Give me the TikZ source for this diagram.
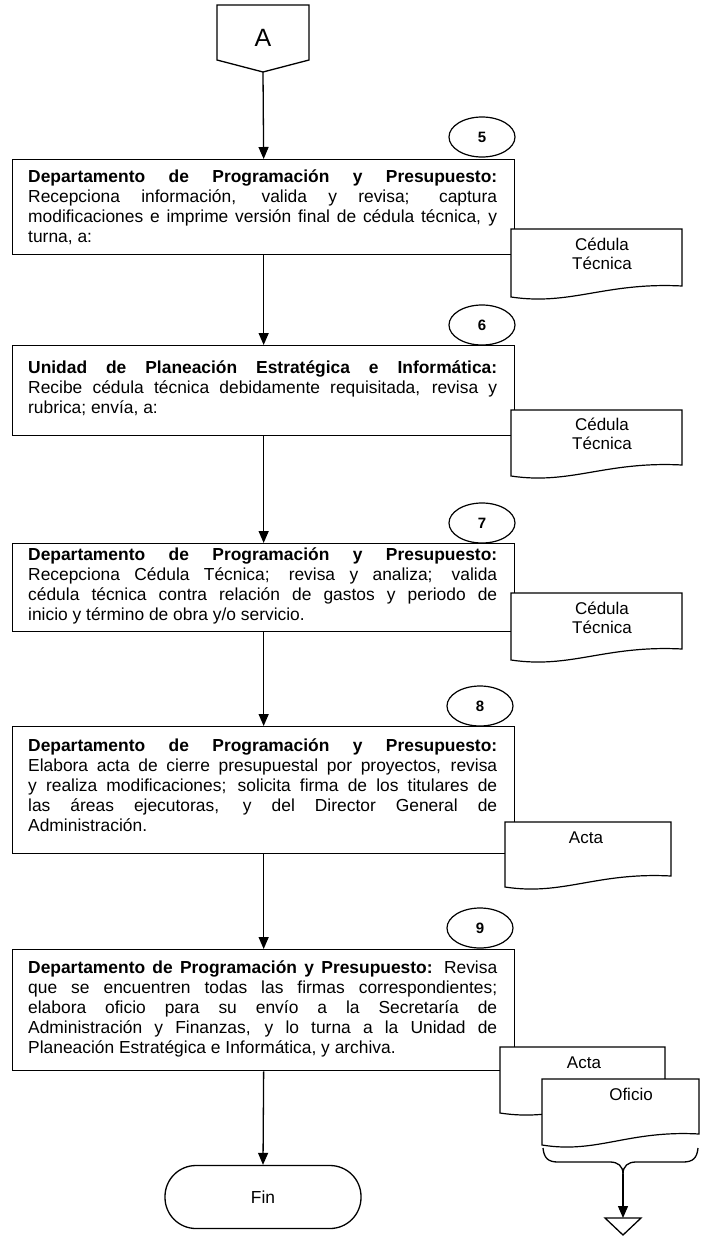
\documentclass[tikz,border=0pt]{standalone}
\usepackage{fontspec}
\setmainfont{Liberation Sans}
\usetikzlibrary{arrows.meta,shapes.geometric}
\newcommand\JL[1]{\hbox to 469pt{#1}}
\newcommand\NL[1]{\hbox{#1}}
\newcommand\bodytext[1]{\vtop{\hsize=469pt\fontsize{17.4}{20}\selectfont\baselineskip=20pt #1}}
\tikzset{
  box/.style={draw, line width=1.3pt, anchor=north west, inner sep=0pt},
  flow/.style={line width=1.3pt, -{Triangle[length=12pt,width=10pt]}},
  num/.style={draw, ellipse, line width=1.2pt, minimum width=66pt, minimum height=40pt, inner sep=0pt, font=\fontsize{15}{15}\selectfont\bfseries},
  docshape/.style={draw, fill=white, line width=1.2pt},
  doclabel/.style={align=center, inner sep=0pt, font=\fontsize{17}{19}\selectfont},
  body/.style={anchor=base west, inner sep=0pt},
  term/.style={draw, line width=1.3pt, rounded corners=31pt, minimum width=196pt, minimum height=63pt, inner sep=0pt, font=\fontsize{17.4}{17.4}\selectfont},
  plain/.style={line width=1.3pt}
}
\begin{document}
\begin{tikzpicture}[x=1pt, y=-1pt]
\useasboundingbox (0,0) rectangle (701,1237);
% off-page connector
\draw[plain] (217,5) -- (309,5) -- (309,60) -- (263,72) -- (217,60) -- cycle;
\node[font=\fontsize{25}{25}\selectfont, inner sep=0pt] (A) at (263,38) {A};
\coordinate (Apt) at (263,72);

% process boxes
\node[box, minimum width=502pt, minimum height=95pt] (b1) at (12,159) {};
\node[box, minimum width=502pt, minimum height=90pt] (b2) at (12,345) {};
\node[box, minimum width=502pt, minimum height=88pt] (b3) at (12,543) {};
\node[box, minimum width=502pt, minimum height=127pt] (b4) at (12,726) {};
\node[box, minimum width=502pt, minimum height=121pt] (b5) at (12,949) {};

% step numbers
\node[num] (n5) at (482,137) {5};
\node[num] (n6) at (482,325) {6};
\node[num] (n7) at (482,523) {7};
\node[num] (n8) at (480,706) {8};
\node[num] (n9) at (480,928) {9};

% texts
\node[body] (t1) at (28,182) {\bodytext{%
\JL{\bfseries Departamento de Programación y Presupuesto:}
\JL{Recepciona información, valida y revisa; captura}
\JL{modificaciones e imprime versión final de cédula técnica, y}
\NL{turna, a:}}};
\node[body] (t2) at (28,373) {\bodytext{%
\JL{\bfseries Unidad de Planeación Estratégica e Informática:}
\JL{Recibe cédula técnica debidamente requisitada, revisa y}
\NL{rubrica; envía, a:}}};
\node[body] (t3) at (28,560) {\bodytext{%
\JL{\bfseries Departamento de Programación y Presupuesto:}
\JL{Recepciona Cédula Técnica; revisa y analiza; valida}
\JL{cédula técnica contra relación de gastos y periodo de}
\NL{inicio y término de obra y/o servicio.}}};
\node[body] (t4) at (28,751) {\bodytext{%
\JL{\bfseries Departamento de Programación y Presupuesto:}
\JL{Elabora acta de cierre presupuestal por proyectos, revisa}
\JL{y realiza modificaciones; solicita firma de los titulares de}
\JL{las áreas ejecutoras, y del Director General de}
\NL{Administración.}}};
\node[body] (t5) at (28,973) {\bodytext{%
\JL{\textbf{Departamento de Programación y Presupuesto:} Revisa}
\JL{que se encuentren todas las firmas correspondientes;}
\JL{elabora oficio para su envío a la Secretaría de}
\JL{Administración y Finanzas, y lo turna a la Unidad de}
\NL{Planeación Estratégica e Informática, y archiva.}}};

% documents
\draw[docshape] (511,229) -- (682,229) -- (682,286) .. controls (605,282) and (571,306) .. (511,297) -- cycle;
\node[doclabel] (d1) at (602,254) {Cédula\\Técnica};
\draw[docshape] (511,410) -- (682,410) -- (682,465) .. controls (605,461) and (571,485) .. (511,476) -- cycle;
\node[doclabel] (d2) at (602,434) {Cédula\\Técnica};
\draw[docshape] (511,593) -- (682,593) -- (682,649) .. controls (605,645) and (571,669) .. (511,660) -- cycle;
\node[doclabel] (d3) at (602,618) {Cédula\\Técnica};
\draw[docshape] (505,822) -- (671,822) -- (671,876) .. controls (596,872) and (563,896) .. (505,887) -- cycle;
\node[doclabel] (d4) at (586,838) {Acta};
\draw[docshape] (500,1047) -- (665,1047) -- (665,1102) .. controls (591,1098) and (558,1122) .. (500,1113) -- cycle;
\node[doclabel] (d5) at (584,1063) {Acta};
\draw[docshape] (542,1079) -- (699,1079) -- (699,1134) .. controls (628,1130) and (597,1154) .. (542,1145) -- cycle;
\node[doclabel] (d6) at (631,1094) {Oficio};

% brace and archive triangle
\draw[plain] (543,1148) .. controls (544,1158) and (548,1162) .. (558,1162) -- (610,1162) .. controls (618,1162) and (623,1166) .. (623,1174);
\draw[plain] (698,1148) .. controls (697,1158) and (693,1162) .. (683,1162) -- (636,1162) .. controls (628,1162) and (623,1166) .. (623,1174);
\coordinate (brc) at (623,1174);
\draw[plain] (605,1218) -- (641,1218) -- (623,1235) -- cycle;
\coordinate (tri) at (623,1218);

% terminal
\node[term] (fin) at (263,1197) {Fin};

% flow arrows
\draw[flow] (Apt) -- (b1.north);
\draw[flow] (b1.south) -- (b2.north);
\draw[flow] (b2.south) -- (b3.north);
\draw[flow] (b3.south) -- (b4.north);
\draw[flow] (b4.south) -- (b5.north);
\draw[flow] (b5.south) -- (fin.north);
\draw[flow] (brc) -- (tri);
\end{tikzpicture}
\end{document}
